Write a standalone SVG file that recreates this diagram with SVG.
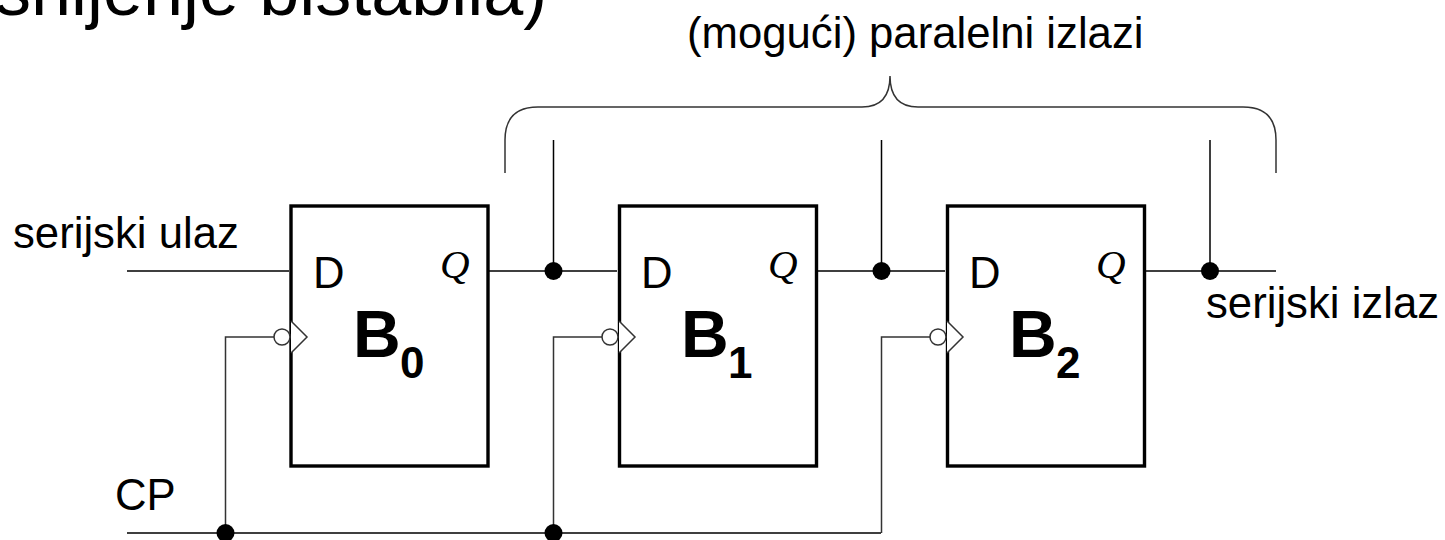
<svg xmlns="http://www.w3.org/2000/svg" width="1445" height="540" viewBox="0 0 1445 540">
<style>
text{font-family:"Liberation Sans",Arial,sans-serif;fill:#000}
.t{font-size:43.7px}
.b{font-size:66px;font-weight:bold}
.s{font-size:44px;font-weight:bold}
.q{font-family:"Liberation Serif","Times New Roman",serif;font-style:italic;font-size:41px}
.w{fill:none;stroke:#000;stroke-width:1.5}
.g{fill:none;stroke:#333;stroke-width:1.5}
.box{fill:#fff;stroke:#000;stroke-width:3.4}
.dot{fill:#000}
.ck{fill:#fff;stroke:#333;stroke-width:1.5}
</style>
<rect width="1445" height="540" fill="#fff"/>
<text x="-5" y="15" font-size="72" id="title">snijenje bistabila)</text>
<text x="687" y="48" class="t" id="izlazi-label">(mogući) paralelni izlazi</text>
<path id="brace" class="g" d="M505 173V140Q505 107 538 107H862Q890 107 890 76Q890 107 918 107H1243Q1276 107 1276 140V173"/>
<g id="B0"><rect class="box" x="291" y="206" width="197" height="260"/><path class="ck" d="M291 321L307 337L291 353"/><circle class="ck" cx="282" cy="337" r="8"/><text x="313" y="288" class="t">D</text><text x="440" y="278" class="q">Q</text><text x="353" y="356.500" class="b">B</text><text x="400" y="378" class="s">0</text></g>
<g id="B1"><rect class="box" x="619.500" y="206" width="197" height="260"/><path class="ck" d="M619 321L635 337L619 353"/><circle class="ck" cx="610" cy="337" r="8"/><text x="641" y="288" class="t">D</text><text x="768" y="278" class="q">Q</text><text x="681" y="356.500" class="b">B</text><text x="728" y="378" class="s">1</text></g>
<g id="B2"><rect class="box" x="947.500" y="206" width="197" height="260"/><path class="ck" d="M947 321L963 337L947 353"/><circle class="ck" cx="938" cy="337" r="8"/><text x="969" y="288" class="t">D</text><text x="1096" y="278" class="q">Q</text><text x="1009" y="356.500" class="b">B</text><text x="1056" y="378" class="s">2</text></g>
<g id="connectors">
<path class="w" d="M127 271H289M489 271H617M817 271H945M1146 271H1276M553.500 140V271M881.500 140V271M1210 140V271M127 533H881"/>
<path class="g" d="M274 337H225.500V533M602 337H553.500V533M930 337H881.500V533"/>
<circle class="dot" cx="553.500" cy="271" r="9"/><circle class="dot" cx="881.500" cy="271" r="9"/><circle class="dot" cx="1210" cy="271" r="9"/><circle class="dot" cx="225.500" cy="533" r="9"/><circle class="dot" cx="553.500" cy="533" r="9"/>
</g>
<text x="13" y="248" class="t">serijski ulaz</text>
<text x="1206" y="318" class="t">serijski izlaz</text>
<text x="115" y="510" class="t">CP</text>
</svg>
